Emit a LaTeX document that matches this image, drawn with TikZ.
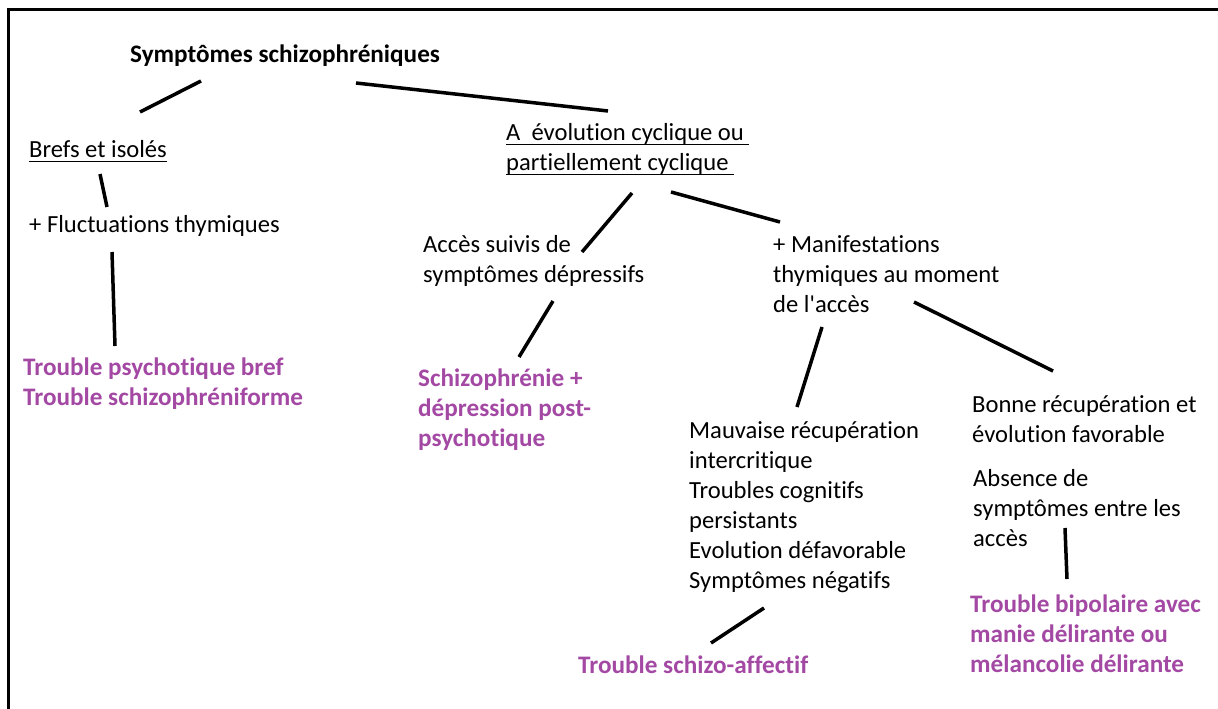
\documentclass[tikz,border=0pt]{standalone}
\usepackage{fontspec}
\setmainfont{Carlito}[Ligatures=NoCommon]
\definecolor{PaintPurple}{RGB}{163,73,164}
\def\PaintPurple{PaintPurple}
\def\SizeTxt{\fontsize{24.6pt}{30pt}\selectfont}
\def\SizeBold{\fontsize{25.2pt}{30pt}\selectfont\bfseries}
\newcommand\Uline[1]{\setbox0\hbox{#1}\rlap{\rule[-5pt]{\wd0}{1.3pt}}\box0}

\begin{document}
\begin{tikzpicture}
    [x=1pt,y=-1pt,
    txt/.style={anchor=base west,inner sep=0pt,align=left,font=\SizeTxt},
    diag/.style={txt,font=\SizeBold,text=\PaintPurple},
    link/.style={line width=3.5pt},
    ]
    \useasboundingbox (0,0) rectangle (1218,709);
    \draw[line width=2.3pt] (8.5,709) -- (8.5,9.5) -- (1218,9.5);

    % nodes sit on the baseline of their last line
    \node[txt,font=\SizeBold] (root) at (130,63) {Symptômes schizophréniques};
    \node[txt] (brefs) at (29,157) {\Uline{Brefs et isolés}};
    \node[txt] (fluct) at (29,232) {+ Fluctuations thymiques};
    \node[diag] (tpb) at (23,405) {Trouble psychotique bref\\Trouble schizophréniforme};
    \node[txt] (cyc) at (506,170) {\Uline{A\ \ évolution cyclique ou\ }\\\Uline{partiellement cyclique\ }};
    \node[txt] (acces) at (423,282) {Accès suivis de\\symptômes dépressifs};
    \node[txt] (manif) at (773,312) {+ Manifestations\\thymiques au moment\\de l\textquotesingle accès};
    \node[diag] (sdep) at (418,446) {Schizophrénie +\\dépression post-\\psychotique};
    \node[txt] (mauv) at (689,588) {Mauvaise récupération\\intercritique\\Troubles cognitifs\\persistants\\Evolution défavorable\\Symptômes négatifs};
    \node[txt] (bonne) at (972,442) {Bonne récupération et\\évolution favorable};
    \node[txt] (absence) at (973,546) {Absence de\\symptômes entre les\\accès};
    \node[diag] (bipol) at (970,672) {Trouble bipolaire avec\\manie délirante ou\\mélancolie délirante};
    \node[diag] (saff) at (578,673) {Trouble schizo-affectif};

    % hand drawn links, kept off the text
    \draw[link] ([shift={(71,18)}]root.base west) -- ([shift={(111,-45)}]brefs.base west);
    \draw[link] ([shift={(226,20)}]root.base west) -- ([shift={(102,-59)}]cyc.base west);
    \draw[link] ([shift={(71,17)}]brefs.base west) -- ([shift={(78,-25)}]fluct.base west);
    \draw[link] ([shift={(83,20)}]fluct.base west) -- ([shift={(92,-59)}]tpb.base west);
    \draw[link] ([shift={(126,23)}]cyc.base west) -- ([shift={(159,-30)}]acces.base west);
    \draw[link] ([shift={(165,22)}]cyc.base west) -- ([shift={(7,-90)}]manif.base west);
    \draw[link] ([shift={(130,19)}]acces.base west) -- ([shift={(101,-89)}]sdep.base west);
    \draw[link] ([shift={(49,15)}]manif.base west) -- ([shift={(108,-181)}]mauv.base west);
    \draw[link] ([shift={(141,-10)}]manif.base west) -- ([shift={(81,-71)}]bonne.base west);
    \draw[link] ([shift={(92,-18)}]absence.base west) -- ([shift={(97,-93)}]bipol.base west);
    \draw[link] ([shift={(75,20)}]mauv.base west) -- ([shift={(133,-30)}]saff.base west);
\end{tikzpicture}
\end{document}
